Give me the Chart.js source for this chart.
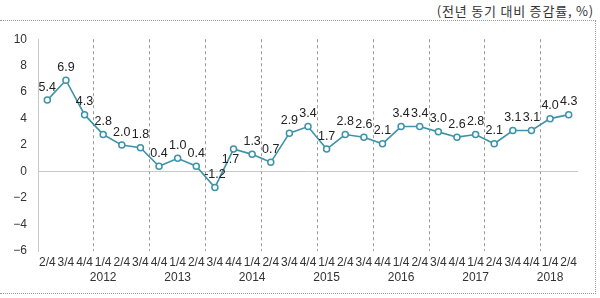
<!DOCTYPE html>
<html>
<head>
<meta charset="utf-8">
<script src="https://cdn.jsdelivr.net/npm/chart.js@4/dist/chart.umd.min.js"></script>
<style>
  body { margin: 0; background: #fff; }
  #unit {
    position: absolute; right: 6px; top: 1px;
    font: 13px 'Noto Sans CJK KR', sans-serif; color: #333; letter-spacing: 0.8px;
  }
  #box {
    position: absolute; left: 0; top: 20px; width: 595px; height: 272px;
    border-top: 1px dotted #999; border-right: 1px dotted #999; border-bottom: 1px dotted #999;
  }
  #box canvas { position: absolute; left: 0; top: 0; }
</style>
</head>
<body>
<div id="unit">(전년 동기 대비 증감률, %)</div>
<div id="box"><canvas id="chart" width="595" height="272"></canvas></div>
<script>
// 분기 (2011 2/4 ~ 2018 2/4)
const quarters = ['2/4', '3/4', '4/4',
  '1/4', '2/4', '3/4', '4/4',
  '1/4', '2/4', '3/4', '4/4',
  '1/4', '2/4', '3/4', '4/4',
  '1/4', '2/4', '3/4', '4/4',
  '1/4', '2/4', '3/4', '4/4',
  '1/4', '2/4', '3/4', '4/4',
  '1/4', '2/4'];
const years = ['', '', '',
  '2012', '', '', '',
  '2013', '', '', '',
  '2014', '', '', '',
  '2015', '', '', '',
  '2016', '', '', '',
  '2017', '', '', '',
  '2018', ''];
const growth = [5.4, 6.9, 4.3, 2.8, 2.0, 1.8, 0.4, 1.0, 0.4, -1.2, 1.7, 1.3, 0.7, 2.9, 3.4,
  1.7, 2.8, 2.6, 2.1, 3.4, 3.4, 3.0, 2.6, 2.8, 2.1, 3.1, 3.1, 4.0, 4.3];
const yTicks = [-6, -4, -2, 0, 2, 4, 6, 8, 10];

const LINE = '#3d93a7';
const labelsBelow = [10];

const labels = quarters.map((q, i) => years[i] ? [q, years[i]] : [q]);

const valueLabels = {
  id: 'valueLabels',
  afterDatasetsDraw(chart) {
    const ctx = chart.ctx;
    const meta = chart.getDatasetMeta(0);
    ctx.save();
    ctx.font = '12.5px "Liberation Sans", Arial, sans-serif';
    ctx.fillStyle = '#222';
    ctx.textAlign = 'center';
    ctx.textBaseline = 'middle';
    meta.data.forEach((pt, i) => {
      const dy = labelsBelow.includes(i) ? 10 : -13;
      ctx.fillText(growth[i].toFixed(1), pt.x - (dy > 0 ? 3 : 0), pt.y + dy);
    });
    ctx.restore();
  }
};

new Chart(document.getElementById('chart'), {
  type: 'line',
  data: {
    labels,
    datasets: [{
      data: growth,
      borderColor: LINE,
      borderWidth: 1.6,
      pointRadius: 3,
      pointBorderWidth: 1.5,
      pointBackgroundColor: '#fff',
      pointBorderColor: LINE,
      tension: 0
    }]
  },
  options: {
    responsive: false,
    animation: false,
    layout: { padding: { left: 0, right: 17, top: 16, bottom: 0 } },
    plugins: { legend: { display: false }, tooltip: { enabled: false } },
    scales: {
      x: {
        offset: true,
        grid: {
          offset: true,
          drawTicks: false,
          lineWidth: 1,
          color: c => (c.index > 0 && c.index % 3 === 0 && c.index < growth.length) ? '#9a9a9a' : 'transparent'
        },
        border: { display: false, dash: [3, 3] },
        ticks: {
          autoSkip: false, maxRotation: 0, minRotation: 0, padding: 4,
          color: '#333',
          font: { family: '"Liberation Sans", Arial, sans-serif', size: 12, lineHeight: 1.25 }
        },
        afterFit: s => { s.height = 42; }
      },
      y: {
        min: -6, max: 10,
        afterBuildTicks: s => { s.ticks = yTicks.map(v => ({ value: v })); },
        grid: {
          drawTicks: false,
          color: c => c.tick && c.tick.value === 0 ? '#c8c8c8' : 'transparent'
        },
        border: { display: true, color: '#c8c8c8' },
        ticks: {
          padding: 11,
          color: '#333',
          font: { family: '"Liberation Sans", Arial, sans-serif', size: 12 },
          callback: v => String(v).replace('-', '\u2212')
        },
        afterFit: s => { s.width = 38; }
      }
    }
  },
  plugins: [valueLabels]
});
</script>
</body>
</html>
